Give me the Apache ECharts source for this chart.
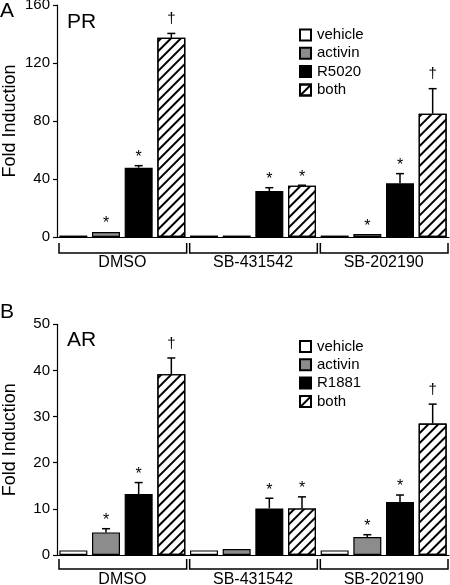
<!DOCTYPE html>
<html><head><meta charset="utf-8">
<script src="https://cdn.jsdelivr.net/npm/echarts@6.0.0/dist/echarts.min.js"></script>
<style>html,body{margin:0;padding:0;background:#fff}#c{width:450px;height:585px}</style>
</head><body><div id="c"></div>
<script>
// ---- data ----
const groups = ['DMSO', 'SB-431542', 'SB-202190'];
const prNames = ['vehicle', 'activin', 'R5020', 'both'];
const arNames = ['vehicle', 'activin', 'R1881', 'both'];

// Panel A (PR)
const prVehicle = [1, 1, 1];
const prActivin = [3.5, 1, 2];
const prR5020 = [47.8, 31.7, 37];
const prBoth = [137.4, 35.4, 85];
const prVehicleErr = [0, 0, 0];
const prActivinErr = [0, 0, 0];
const prR5020Err = [1.4, 2.3, 6.7];
const prBothErr = [3, 0.3, 17.3];
const prVehicleMark = ['', '', ''];
const prActivinMark = ['*', '', '*'];
const prR5020Mark = ['*', '*', '*'];
const prBothMark = ['\u2020', '*', '\u2020'];
const prYTicks = [0, 40, 80, 120, 160];

// Panel B (AR)
const arVehicle = [1, 1, 1];
const arActivin = [4.9, 1.3, 3.9];
const arR1881 = [13.2, 10.1, 11.5];
const arBoth = [39.2, 10.1, 28.5];
const arVehicleErr = [0, 0, 0];
const arActivinErr = [0.8, 0, 0.5];
const arR1881Err = [2.5, 2.2, 1.5];
const arBothErr = [3.5, 2.5, 4.2];
const arVehicleMark = ['', '', ''];
const arActivinMark = ['*', '', '*'];
const arR1881Mark = ['*', '*', '*'];
const arBothMark = ['\u2020', '*', '\u2020'];
const arYTicks = [0, 10, 20, 30, 40, 50];

// ---- build ----
const FONT = '"Liberation Sans", Arial, sans-serif';
const fills = ['#ffffff', '#8c8c8c', '#000000', '#ffffff'];
const hatch = {
  symbol: 'rect', symbolSize: 1, color: '#000',
  dashArrayX: [1, 0], dashArrayY: [2, 4.5], rotation: -Math.PI / 4
};
const slotLabels = [];
groups.forEach(g => [0, 1, 2, 3].forEach(s => slotLabels.push(g + '-' + s)));

const panels = [
  { names: prNames, vals: [prVehicle, prActivin, prR5020, prBoth],
    errs: [prVehicleErr, prActivinErr, prR5020Err, prBothErr],
    marks: [prVehicleMark, prActivinMark, prR5020Mark, prBothMark],
    ticks: prYTicks, top: 5, height: 232, legendTop: 27.5, bracketDy: 16, labelMargin: 18 },
  { names: arNames, vals: [arVehicle, arActivin, arR1881, arBoth],
    errs: [arVehicleErr, arActivinErr, arR1881Err, arBothErr],
    marks: [arVehicleMark, arActivinMark, arR1881Mark, arBothMark],
    ticks: arYTicks, top: 324.3, height: 230.7, legendTop: 339, bracketDy: 14, labelMargin: 17 }
];

const grid = [], xAxis = [], yAxis = [], series = [], legend = [];
panels.forEach((p, pi) => {
  grid.push({ left: 57, top: p.top, width: 392, height: p.height, outerBoundsMode: 'none', containLabel: false });
  const tk = p.ticks;
  yAxis.push({
    type: 'value', gridIndex: pi, min: tk[0], max: tk[tk.length - 1], interval: tk[1] - tk[0],
    name: 'Fold Induction', nameLocation: 'middle', nameGap: 38, nameMoveOverlap: false,
    nameTextStyle: { fontSize: 18, color: '#000', fontFamily: FONT },
    axisLine: { show: true, lineStyle: { color: '#000', width: 1.2 } },
    axisTick: { show: true, length: 4, lineStyle: { color: '#000', width: 1.2 } },
    axisLabel: { fontSize: 15, color: '#000', fontFamily: FONT, margin: 7 },
    splitLine: { show: false }
  });
  // bar slot axis
  xAxis.push({
    type: 'category', gridIndex: pi, data: slotLabels, boundaryGap: true,
    axisLine: { show: true, onZero: false, lineStyle: { color: '#000', width: 1.2 } },
    axisTick: { show: false }, axisLabel: { show: false }, splitLine: { show: false }
  });
  // group axis
  xAxis.push({
    type: 'category', gridIndex: pi, data: groups, position: 'bottom', boundaryGap: true,
    axisLine: { show: false }, axisTick: { show: false }, splitLine: { show: false },
    axisLabel: { margin: p.labelMargin, fontSize: 16, color: '#000', fontFamily: FONT }
  });
  const slotAxis = pi * 2, groupAxis = pi * 2 + 1;
  // bars
  p.names.forEach((nm, s) => {
    const data = slotLabels.map(() => '-');
    groups.forEach((g, gi) => { data[gi * 4 + s] = p.vals[s][gi]; });
    const itemStyle = { color: fills[s], borderColor: '#000', borderWidth: 1.2 };
    if (s === 3) itemStyle.decal = hatch;
    series.push({
      type: 'bar', name: nm, xAxisIndex: slotAxis, yAxisIndex: pi, data,
      barWidth: 28, barGap: '-100%', itemStyle, silent: true, animation: false
    });
  });
  // error bars + significance marks
  const rows = [];
  groups.forEach((g, gi) => p.names.forEach((nm, s) => {
    const e = p.errs[s][gi], m = p.marks[s][gi];
    if (e > 0 || m) rows.push({ x: gi * 4 + s, v: p.vals[s][gi], e, m });
  }));
  series.push({
    type: 'custom', xAxisIndex: slotAxis, yAxisIndex: pi, clip: false, silent: true, animation: false,
    data: rows.map(r => [r.x, r.v + r.e]),
    encode: { x: 0, y: 1 },
    renderItem: (params, api) => {
      const r = rows[params.dataIndex];
      const b = api.coord([r.x, r.v]);
      const t = api.coord([r.x, r.v + r.e]);
      const ch = [];
      const ls = { stroke: '#000', lineWidth: 1.5, fill: null };
      if (r.e > 0) {
        ch.push({ type: 'line', shape: { x1: b[0], y1: b[1], x2: t[0], y2: t[1] }, style: ls });
        ch.push({ type: 'line', shape: { x1: t[0] - 4, y1: t[1], x2: t[0] + 4, y2: t[1] }, style: ls });
      }
      if (r.m) {
        const dag = r.m !== '*';
        ch.push({ type: 'text', style: {
          text: r.m, x: t[0], y: t[1] - (dag ? 7 : 0), align: 'center', verticalAlign: 'bottom',
          fontSize: dag ? 15 : 16, fontFamily: FONT, fill: '#000' } });
      }
      return { type: 'group', children: ch };
    }
  });
  // group brackets
  series.push({
    type: 'custom', xAxisIndex: groupAxis, yAxisIndex: pi, clip: false, silent: true, animation: false,
    data: groups.map((g, gi) => [gi, 0]), encode: { x: 0, y: 1 },
    renderItem: (params, api) => {
      const c = api.coord([api.value(0), 0]);
      const bw = api.size([1, 0])[0];
      const y = c[1] + p.bracketDy;
      const x0 = c[0] - bw / 2 + 2, x1 = c[0] + bw / 2 - 1;
      return { type: 'polyline', shape: { points: [[x0, y - 10], [x0, y], [x1, y], [x1, y - 10]] },
        style: { stroke: '#000', lineWidth: 1.5, fill: null } };
    }
  });
  legend.push({
    data: p.names, orient: 'vertical', left: 299, top: p.legendTop, padding: 0,
    itemWidth: 11, itemHeight: 11, itemGap: 3.3, icon: 'rect', selectedMode: false,
    textStyle: { fontSize: 15, color: '#000', fontFamily: FONT, padding: [0, 0, 0, 1] }
  });
});

const chart = echarts.init(document.getElementById('c'), null, { renderer: 'canvas' });
chart.setOption({
  backgroundColor: '#fff',
  animation: false,
  textStyle: { fontFamily: FONT },
  grid, xAxis, yAxis, series, legend,
  graphic: [
    { type: 'text', left: 0, top: 1, style: { text: 'A', fontSize: 21, fontFamily: FONT, fill: '#000' } },
    { type: 'text', left: 67, top: 12, style: { text: 'PR', fontSize: 21, fontFamily: FONT, fill: '#000' } },
    { type: 'text', left: 0, top: 302, style: { text: 'B', fontSize: 21, fontFamily: FONT, fill: '#000' } },
    { type: 'text', left: 67, top: 330, style: { text: 'AR', fontSize: 21, fontFamily: FONT, fill: '#000' } }
  ]
});
</script></body></html>
